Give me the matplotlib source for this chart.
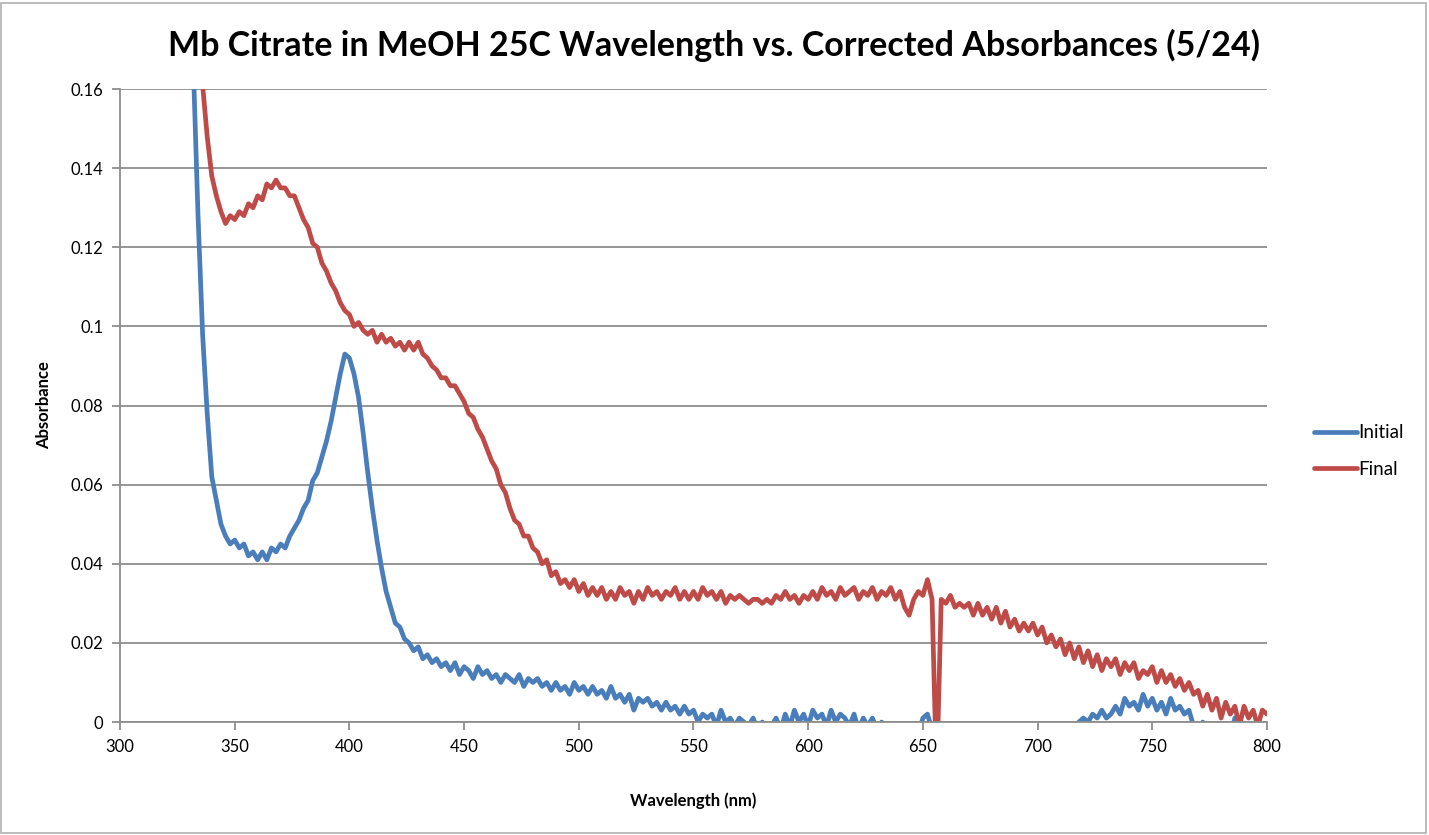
import numpy as np
import matplotlib
matplotlib.use("Agg")
import matplotlib.pyplot as plt
from matplotlib.patches import Rectangle

plt.rcParams['font.family'] = ['Lato', 'DejaVu Sans']

title = "Mb Citrate in MeOH 25C Wavelength vs. Corrected Absorbances (5/24)"
x_label = "Wavelength (nm)"
y_label = "Absorbance"
series_names = ["Initial", "Final"]

wl_initial = list(range(330, 801, 2))
initial = [
    0.200, 0.165, 0.128, 0.098, 0.078, 0.062, 0.056, 0.050, 0.047, 0.045,  # 330-348
    0.046, 0.044, 0.045, 0.042, 0.043, 0.041, 0.043, 0.041, 0.044, 0.043,  # 350-368
    0.045, 0.044, 0.047, 0.049, 0.051, 0.054, 0.056, 0.061, 0.063, 0.067,  # 370-388
    0.071, 0.076, 0.082, 0.088, 0.093, 0.092, 0.088, 0.082, 0.073, 0.063,  # 390-408
    0.054, 0.046, 0.039, 0.033, 0.029, 0.025, 0.024, 0.021, 0.020, 0.018,  # 410-428
    0.019, 0.016, 0.017, 0.015, 0.016, 0.014, 0.015, 0.013, 0.015, 0.012,  # 430-448
    0.014, 0.013, 0.011, 0.014, 0.012, 0.013, 0.011, 0.012, 0.010, 0.012,  # 450-468
    0.011, 0.010, 0.012, 0.009, 0.011, 0.010, 0.011, 0.009, 0.010, 0.008,  # 470-488
    0.010, 0.008, 0.009, 0.007, 0.010, 0.008, 0.009, 0.007, 0.009, 0.007,  # 490-508
    0.008, 0.006, 0.009, 0.006, 0.007, 0.005, 0.007, 0.003, 0.006, 0.005,  # 510-528
    0.006, 0.004, 0.005, 0.003, 0.005, 0.003, 0.004, 0.002, 0.004, 0.002,  # 530-548
    0.003, 0.000, 0.002, 0.001, 0.002, -0.001, 0.003, 0.000, 0.001, -0.001,  # 550-568
    0.001, 0.000, -0.001, 0.001, -0.002, 0.000, -0.002, -0.001, 0.001, -0.002,  # 570-588
    0.002, -0.001, 0.003, 0.000, 0.002, -0.001, 0.003, 0.001, 0.002, -0.001,  # 590-608
    0.003, 0.000, 0.002, 0.001, -0.001, 0.002, -0.002, 0.001, -0.001, 0.001,  # 610-628
    -0.002, 0.000, -0.003, -0.002, -0.003, -0.004, -0.003, -0.003, -0.002, -0.003,  # 630-648
    0.001, 0.002, -0.002, -0.004, -0.003, -0.005, -0.004, -0.003, -0.004, -0.005,  # 650-668
    -0.004, -0.003, -0.004, -0.004, -0.003, -0.001, -0.004, -0.005, -0.004, -0.003,  # 670-688
    -0.004, -0.003, -0.002, -0.004, -0.003, -0.001, -0.003, -0.004, -0.002, -0.001,  # 690-708
    -0.002, -0.001, -0.001, -0.002, 0.000, 0.001, 0.000, 0.002, 0.001, 0.003,  # 710-728
    0.001, 0.002, 0.004, 0.002, 0.006, 0.004, 0.005, 0.003, 0.007, 0.004,  # 730-748
    0.006, 0.003, 0.005, 0.002, 0.006, 0.003, 0.004, 0.002, 0.003, -0.001,  # 750-768
    -0.003, 0.000, -0.003, -0.004, -0.003, -0.004, -0.005, -0.004, 0.001, -0.003,  # 770-788
    -0.004, -0.005, -0.004, -0.005, -0.004, -0.005,  # 790-800
]

wl_final = list(range(330, 655, 2)) + [655.5, 656.5] + list(range(658, 801, 2))
final = [
    0.200, 0.190, 0.172, 0.161, 0.148, 0.138, 0.133, 0.129, 0.126, 0.128,  # 330-348
    0.127, 0.129, 0.128, 0.131, 0.130, 0.133, 0.132, 0.136, 0.135, 0.137,  # 350-368
    0.135, 0.135, 0.133, 0.133, 0.130, 0.127, 0.125, 0.121, 0.120, 0.116,  # 370-388
    0.114, 0.111, 0.109, 0.106, 0.104, 0.103, 0.100, 0.101, 0.099, 0.098,  # 390-408
    0.099, 0.096, 0.098, 0.096, 0.097, 0.095, 0.096, 0.094, 0.096, 0.094,  # 410-428
    0.096, 0.093, 0.092, 0.090, 0.089, 0.087, 0.087, 0.085, 0.085, 0.083,  # 430-448
    0.081, 0.078, 0.077, 0.074, 0.072, 0.069, 0.066, 0.064, 0.060, 0.058,  # 450-468
    0.054, 0.051, 0.050, 0.047, 0.047, 0.044, 0.043, 0.040, 0.041, 0.037,  # 470-488
    0.038, 0.035, 0.036, 0.034, 0.036, 0.033, 0.035, 0.032, 0.034, 0.032,  # 490-508
    0.034, 0.031, 0.033, 0.031, 0.034, 0.032, 0.033, 0.030, 0.033, 0.031,  # 510-528
    0.034, 0.032, 0.033, 0.031, 0.033, 0.032, 0.034, 0.031, 0.033, 0.031,  # 530-548
    0.033, 0.031, 0.034, 0.032, 0.033, 0.031, 0.033, 0.030, 0.032, 0.031,  # 550-568
    0.032, 0.031, 0.030, 0.031, 0.031, 0.030, 0.031, 0.030, 0.032, 0.031,  # 570-588
    0.033, 0.031, 0.032, 0.030, 0.032, 0.031, 0.033, 0.031, 0.034, 0.032,  # 590-608
    0.033, 0.031, 0.034, 0.032, 0.033, 0.034, 0.031, 0.033, 0.032, 0.034,  # 610-628
    0.031, 0.033, 0.032, 0.034, 0.031, 0.033, 0.029, 0.027, 0.031, 0.033,  # 630-648
    0.032, 0.036, 0.031,                                                    # 650-654
    -0.003, -0.003,                                                         # 655.5, 656.5
    0.031, 0.030, 0.032, 0.029, 0.030, 0.029, 0.030, 0.027, 0.030, 0.027,  # 658-676
    0.029, 0.026, 0.029, 0.025, 0.028, 0.024, 0.026, 0.023, 0.025, 0.023,  # 678-696
    0.025, 0.022, 0.024, 0.020, 0.022, 0.019, 0.021, 0.017, 0.020, 0.016,  # 698-716
    0.019, 0.015, 0.018, 0.014, 0.017, 0.013, 0.016, 0.014, 0.016, 0.012,  # 718-736
    0.015, 0.013, 0.015, 0.011, 0.013, 0.012, 0.014, 0.010, 0.013, 0.010,  # 738-756
    0.012, 0.009, 0.011, 0.008, 0.010, 0.007, 0.008, 0.004, 0.007, 0.003,  # 758-776
    0.006, 0.001, 0.005, 0.002, 0.004, -0.001, 0.004, 0.001, 0.003, -0.001,  # 778-796
    0.003, 0.002,                                                           # 798-800
]

x_ticks = [300, 350, 400, 450, 500, 550, 600, 650, 700, 750, 800]
y_ticks = [0, 0.02, 0.04, 0.06, 0.08, 0.1, 0.12, 0.14, 0.16]
y_tick_labels = ["0", "0.02", "0.04", "0.06", "0.08", "0.1", "0.12", "0.14", "0.16"]

blue = "#4A7EBB"
red = "#BE4B48"
grid_c = "#8E8E8E"

fig = plt.figure(figsize=(14.29, 8.35), dpi=100)
fig.patches.append(Rectangle((0.001, 0.002), 0.997, 0.995, transform=fig.transFigure,
                             fill=False, edgecolor="#B0B0B0", linewidth=1.2))
ax = fig.add_axes([0.084, 0.1353, 0.8026, 0.7581])

ax.plot(wl_initial, initial, color=blue, linewidth=3.4, label=series_names[0],
        solid_joinstyle='round', solid_capstyle='round')
ax.plot(wl_final, final, color=red, linewidth=3.4, label=series_names[1],
        solid_joinstyle='round', solid_capstyle='round')

ax.set_xlim(300, 800)
ax.set_ylim(0, 0.16)
ax.set_xticks(x_ticks)
ax.set_xticklabels([str(t) for t in x_ticks])
ax.set_yticks(y_ticks)
ax.set_yticklabels(y_tick_labels)
ax.yaxis.grid(True, color=grid_c, linewidth=1.3)
ax.set_axisbelow(True)
for s in ["top", "right"]:
    ax.spines[s].set_visible(False)
for s in ["left", "bottom"]:
    ax.spines[s].set_color(grid_c)
    ax.spines[s].set_linewidth(1.3)
ax.tick_params(axis='both', direction='out', length=6, width=1.3, color=grid_c,
               labelsize=12, labelcolor="black", pad=6)

ax.set_xlabel(x_label, fontsize=12, fontweight='bold', labelpad=27)
ax.set_ylabel(y_label, fontsize=12, fontweight='bold', labelpad=13)

fig.text(0.4995, 0.945, title, ha='center', va='center', fontsize=24.5, fontweight='bold')

leg = ax.legend(loc='center left', bbox_to_anchor=(1.026, 0.428), frameon=False,
                fontsize=13.5, handlelength=2.3, handletextpad=0.1, labelspacing=1.05)
for line in leg.get_lines():
    line.set_linewidth(3.4)

fig.savefig("out.png", dpi=100)
